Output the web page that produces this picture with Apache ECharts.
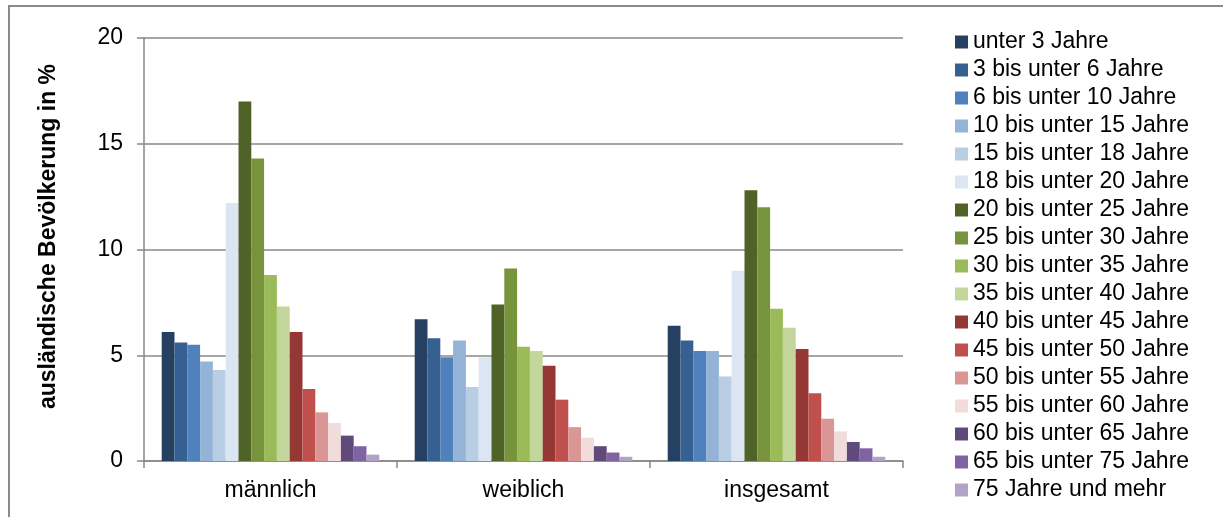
<!DOCTYPE html>
<html>
<head>
<meta charset="utf-8">
<script src="https://cdn.jsdelivr.net/npm/echarts@6/dist/echarts.min.js"></script>
<style>
html,body{margin:0;padding:0;background:#fff;}
#main{width:1223px;height:517px;}
</style>
</head>
<body>
<div id="main"></div>
<script>
const categories = ['männlich', 'weiblich', 'insgesamt'];
const ageGroups = [
  'unter 3 Jahre', '3 bis unter 6 Jahre', '6 bis unter 10 Jahre', '10 bis unter 15 Jahre',
  '15 bis unter 18 Jahre', '18 bis unter 20 Jahre', '20 bis unter 25 Jahre', '25 bis unter 30 Jahre',
  '30 bis unter 35 Jahre', '35 bis unter 40 Jahre', '40 bis unter 45 Jahre', '45 bis unter 50 Jahre',
  '50 bis unter 55 Jahre', '55 bis unter 60 Jahre', '60 bis unter 65 Jahre', '65 bis unter 75 Jahre',
  '75 Jahre und mehr'
];
// values per category, in age-group order
const maennlich = [6.1, 5.6, 5.5, 4.7, 4.3, 12.2, 17.0, 14.3, 8.8, 7.3, 6.1, 3.4, 2.3, 1.8, 1.2, 0.7, 0.3];
const weiblich  = [6.7, 5.8, 4.9, 5.7, 3.5, 4.9, 7.4, 9.1, 5.4, 5.2, 4.5, 2.9, 1.6, 1.1, 0.7, 0.4, 0.2];
const insgesamt = [6.4, 5.7, 5.2, 5.2, 4.0, 9.0, 12.8, 12.0, 7.2, 6.3, 5.3, 3.2, 2.0, 1.4, 0.9, 0.6, 0.2];
const yTicks = [0, 5, 10, 15, 20];

const colors = ['#254061', '#366092', '#4F81BD', '#95B3D7', '#B9CDE5', '#DCE6F2',
  '#4F6228', '#77933C', '#9BBB59', '#C3D69B', '#953735', '#C0504D', '#D99694',
  '#F2DCDB', '#604A7B', '#8064A2', '#B3A2C7'];

const FONT = 'Liberation Sans, Arial, sans-serif';
const chart = echarts.init(document.getElementById('main'), null, {renderer: 'canvas'});

const series = ageGroups.map((name, i) => ({
  name: name,
  type: 'bar',
  data: [maennlich[i], weiblich[i], insgesamt[i]],
  barGap: '0%',
  barCategoryGap: '14%',
  itemStyle: {color: colors[i]},
  emphasis: {disabled: true},
  animation: false
}));

chart.setOption({
  animation: false,
  color: colors,
  graphic: [{
    type: 'rect',
    shape: {x: 9, y: 6, width: 1260, height: 560},
    style: {fill: 'none', stroke: '#8a8a8a', lineWidth: 2},
    silent: true
  }],
  grid: {left: 144, right: 320, top: 38, bottom: 56, containLabel: false},
  legend: {
    orient: 'vertical',
    left: 955,
    top: 30.5,
    padding: 0,
    itemWidth: 13,
    itemHeight: 13,
    itemGap: 5,
    icon: 'rect',
    textStyle: {fontFamily: FONT, fontSize: 23, color: '#000', lineHeight: 23},
    data: ageGroups
  },
  xAxis: {
    type: 'category',
    data: categories,
    axisLine: {lineStyle: {color: '#888', width: 1.5}},
    axisTick: {show: true, length: 7, lineStyle: {color: '#888', width: 1.5}},
    axisLabel: {fontFamily: FONT, fontSize: 23, color: '#000', margin: 18}
  },
  yAxis: {
    type: 'value',
    min: yTicks[0],
    max: yTicks[yTicks.length - 1],
    interval: yTicks[1] - yTicks[0],
    name: 'ausländische Bevölkerung in %',
    nameLocation: 'middle',
    nameRotate: 90,
    nameGap: 84,
    nameTextStyle: {fontFamily: FONT, fontSize: 23, fontWeight: 'bold', color: '#000', padding: [0, 0, 0, 26]},
    axisLine: {show: true, lineStyle: {color: '#888', width: 1.5}},
    axisTick: {show: true, length: 7, lineStyle: {color: '#888', width: 1.5}},
    axisLabel: {fontFamily: FONT, fontSize: 23, color: '#000', margin: 21},
    splitLine: {show: true, lineStyle: {color: '#888', width: 1.5}}
  },
  series: series
});
</script>
</body>
</html>
